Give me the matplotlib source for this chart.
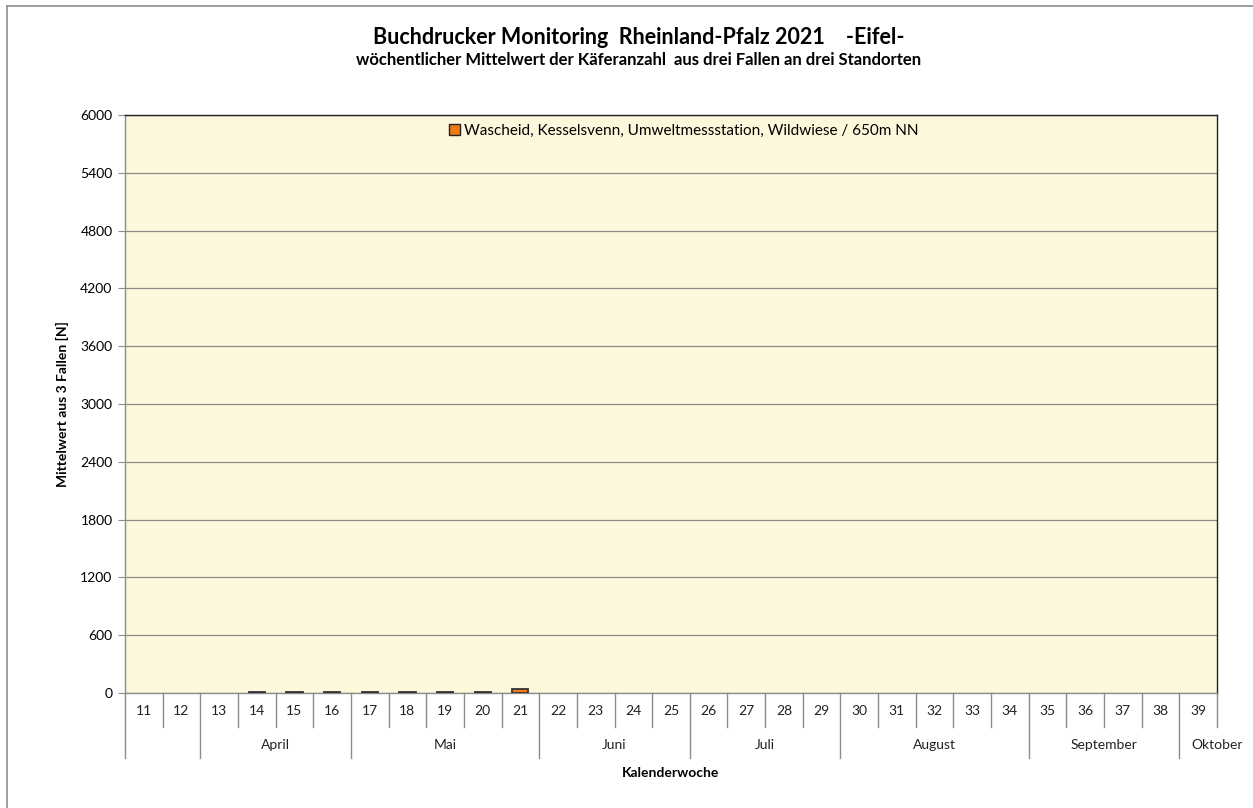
import matplotlib.pyplot as plt
from matplotlib.lines import Line2D
from matplotlib.patches import Rectangle
import numpy as np

plt.rcParams["font.family"] = ["Lato", "DejaVu Sans"]

weeks = list(range(11, 40))
# Wochenmittel (NaN = keine Fangdaten)
values = [np.nan, np.nan, np.nan, 8, 8, 8, 8, 8, 8, 8, 45] + [np.nan] * 18
months = ["April", "Mai", "Juni", "Juli", "August", "September", "Oktober"]
month_first_week = [13, 17, 22, 26, 30, 35, 39]
month_last_week = [16, 21, 25, 29, 34, 38, 39]
series_label = "Wascheid, Kesselsvenn, Umweltmessstation, Wildwiese / 650m NN"

W, H = 1253, 808
fig = plt.figure(figsize=(W / 100, H / 100), dpi=100)
ax = fig.add_axes([125 / W, 1 - 693 / H, (1217 - 125) / W, (693 - 115) / H])
ax.set_facecolor("#fdf7db")

x = np.arange(len(weeks))
ax.bar(x, values, width=0.43, color="#f07a12", edgecolor="#333333", linewidth=1.3, zorder=3)

ax.set_xlim(-0.5, len(weeks) - 0.5)
ax.set_ylim(0, 6000)
ax.set_yticks(np.arange(0, 6001, 600))
ax.yaxis.grid(True, color="#8c8c8c", linewidth=0.9)
ax.set_axisbelow(True)
ax.tick_params(axis="y", length=5, color="#8c8c8c", labelsize=10, pad=4)
ax.set_xticks([])

for s in ["top", "right"]:
    ax.spines[s].set_color("#222222")
    ax.spines[s].set_linewidth(1.0)
for s in ["left", "bottom"]:
    ax.spines[s].set_color("#8c8c8c")
    ax.spines[s].set_linewidth(1.0)

# Kategorientabelle unter der Achse
tr = ax.get_xaxis_transform()
short = -(727 - 693) / 578
long_ = -(758 - 693) / 578
month_edges = set(mf - 0.5 - weeks[0] for mf in month_first_week)
for i in range(len(weeks) + 1):
    xe = i - 0.5
    y0 = long_ if (xe in month_edges or i == 0) else short
    ax.add_line(Line2D([xe, xe], [0, y0], transform=tr, color="#8c8c8c",
                       linewidth=1.0, clip_on=False))
for i, w in enumerate(weeks):
    ax.text(i, -(711 - 693) / 578, str(w), transform=tr, ha="center", va="center",
            fontsize=10, color="#222222")
for m, a, b in zip(months, month_first_week, month_last_week):
    xc = (a + b) / 2 - weeks[0]
    if m == "Oktober":
        xc += 0.5
    ax.text(xc, -(745 - 693) / 578, m, transform=tr, ha="center", va="center",
            fontsize=10, color="#222222")

ax.text(0.5, -(773 - 693) / 578, "Kalenderwoche", transform=ax.transAxes,
        ha="center", va="center", fontsize=10, fontweight="bold")
ax.set_ylabel("Mittelwert aus 3 Fallen [N]", fontsize=10, fontweight="bold", labelpad=8)

# Legende
ax.legend([Rectangle((0, 0), 1, 1, facecolor="#f07a12", edgecolor="#222222")], [series_label],
          loc="upper center", bbox_to_anchor=(0.512, 1.0), frameon=False, fontsize=11,
          handlelength=0.7, handleheight=0.7, handletextpad=0.3, borderaxespad=0.2)

fig.text(0.51, 1 - 37 / H, "Buchdrucker Monitoring  Rheinland-Pfalz 2021    -Eifel-",
         ha="center", va="center", fontsize=15.5, fontweight="bold")
fig.text(0.51, 1 - 60 / H, "wöchentlicher Mittelwert der Käferanzahl  aus drei Fallen an drei Standorten",
         ha="center", va="center", fontsize=12, fontweight="bold")

# Rahmen des Diagrammbereichs
fig.add_artist(Line2D([7 / W, 7 / W], [0, 1 - 6 / H], transform=fig.transFigure,
                      color="#8c8c8c", linewidth=1.2))
fig.add_artist(Line2D([7 / W, 1], [1 - 6 / H, 1 - 6 / H], transform=fig.transFigure,
                      color="#8c8c8c", linewidth=1.2))

fig.savefig("out.png", dpi=100)
